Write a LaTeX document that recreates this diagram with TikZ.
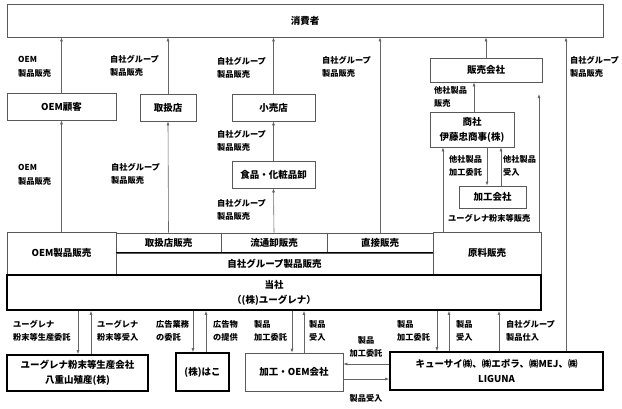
\documentclass[tikz,border=0pt]{standalone}
\usepackage{fontspec}
\setmainfont{Noto Sans CJK JP}
\usetikzlibrary{arrows.meta}

\tikzset{
  box/.style = {draw = black!65, line width = 0.6pt, rectangle, inner sep = 0pt, align = center, font = \fontsize{9.5}{15}\selectfont\bfseries},
  thickbox/.style = {box, draw = black, line width = 1.6pt},
  lbl/.style = {anchor = west, inner sep = 0pt, align = left, font = \fontsize{8.2}{13.5}\selectfont\bfseries},
  arr/.style = {draw = black!60, line width = 0.6pt, -{Latex[length = 4pt, width = 3pt]}}
}

\begin{document}
\begin{tikzpicture}[x = 1pt, y = -1pt]

\useasboundingbox ( 0, 0 ) rectangle ( 622, 408 );

% Consumer
\node[box, minimum width = 596pt, minimum height = 33pt] (consumer) at ( 305, 20.5 ) {消費者};

% Sales channels
\node[box, minimum width = 109pt, minimum height = 27pt] (oemcust) at ( 61.5, 106.5 ) {OEM顧客};
\node[box, minimum width = 56pt, minimum height = 27pt] (store) at ( 168, 107.5 ) {取扱店};
\node[box, minimum width = 83pt, minimum height = 27pt] (retail) at ( 273.5, 107.5 ) {小売店};
\node[box, minimum width = 83pt, minimum height = 27pt] (wholesale) at ( 273.5, 174.5 ) {食品・化粧品卸};
\node[box, minimum width = 112pt, minimum height = 24pt] (salesco) at ( 486, 70 ) {販売会社};
\node[box, minimum width = 84pt, minimum height = 35pt] (trading) at ( 472, 129.5 ) {商社\\伊藤忠商事(株)};
\node[box, minimum width = 67pt, minimum height = 22pt] (processor) at ( 492.5, 197 ) {加工会社};

% Business segments
\node[box, minimum width = 109pt, minimum height = 42pt] (oemsales) at ( 61.5, 253 ) {OEM製品販売};
\node[box, minimum width = 105pt, minimum height = 20pt] (storesales) at ( 168.5, 243 ) {取扱店販売};
\node[box, minimum width = 106pt, minimum height = 20pt] (distsales) at ( 274, 243 ) {流通卸販売};
\node[box, minimum width = 106pt, minimum height = 20pt] (directsales) at ( 380, 243 ) {直接販売};
\node[box, minimum width = 317pt, minimum height = 21pt] (groupsales) at ( 274.5, 263.5 ) {自社グループ製品販売};
\node[box, minimum width = 108pt, minimum height = 42pt] (materialsales) at ( 487, 253 ) {原料販売};
\draw[black, line width = 1pt] (groupsales.north west) -- (groupsales.north east);

% Company
\node[thickbox, minimum width = 534pt, minimum height = 35pt] (company) at ( 274, 292.5 ) {当社\\（(株)ユーグレナ）};

% Partners
\node[thickbox, minimum width = 141pt, minimum height = 36pt] (yaeyama) at ( 77.5, 373 ) {ユーグレナ粉末等生産会社\\八重山殖産(株)};
\node[thickbox, minimum width = 53pt, minimum height = 38pt] (hako) at ( 202.5, 372 ) {(株)はこ};
\node[box, minimum width = 98pt, minimum height = 38pt] (oemco) at ( 294, 372 ) {加工・OEM会社};
\node[thickbox, minimum width = 213pt, minimum height = 38pt] (liguna) at ( 496.5, 371 ) {キューサイ㈱、㈱エポラ、㈱MEJ、㈱\\LIGUNA};

\coordinate (rawend) at ( 539, 94 );

% Upper flows
\draw[arr] (oemcust.north) -- (oemcust.north |- consumer.south);
\draw[arr] (store.north) -- (store.north |- consumer.south);
\draw[arr] (retail.north) -- (retail.north |- consumer.south);
\draw[arr] (directsales.north) -- (directsales.north |- consumer.south);
\draw[arr] (salesco.north) -- (salesco.north |- consumer.south);
\draw[arr] (liguna.north -| 566,0) -- (566,0 |- consumer.south);
\draw[arr] (oemsales.north) -- (oemcust.south);
\draw[arr] (storesales.north) -- (store.south);
\draw[arr] (distsales.north) -- (wholesale.south);
\draw[arr] (wholesale.north) -- (retail.south);
\draw[arr] (materialsales.north -| 443,0) -- (443,0 |- trading.south);
\draw[arr] (materialsales.north -| rawend) -- (rawend);
\draw[arr] (trading.north -| 474,0) -- (474,0 |- salesco.south);
\draw[arr] (trading.south -| 487,0) -- (487,0 |- processor.north);
\draw[arr] (processor.north -| 501,0) -- (501,0 |- trading.south);

% Lower flows
\draw[arr] (company.south -| 78,0) -- (78,0 |- yaeyama.north);
\draw[arr] (yaeyama.north -| 91,0) -- (91,0 |- company.south);
\draw[arr] (company.south -| 193,0) -- (193,0 |- hako.north);
\draw[arr] (hako.north -| 206,0) -- (206,0 |- company.south);
\draw[arr] (company.south -| 292,0) -- (292,0 |- oemco.north);
\draw[arr] (oemco.north -| 304,0) -- (304,0 |- company.south);
\draw[arr] (company.south -| 437,0) -- (437,0 |- liguna.north);
\draw[arr] (liguna.north -| 449,0) -- (449,0 |- company.south);
\draw[arr] (liguna.north -| 499,0) -- (499,0 |- company.south);
\draw[arr] (liguna.west |- 0,364) -- (oemco.east |- 0,364);
\draw[arr] (oemco.east |- 0,379) -- (liguna.west |- 0,379);

% Labels
\node[lbl] (l1) at ( 18, 67 ) {OEM\\製品販売};
\node[lbl] (l2) at ( 110, 66 ) {自社グループ\\製品販売};
\node[lbl] (l3) at ( 217, 68 ) {自社グループ\\製品販売};
\node[lbl] (l4) at ( 322, 67 ) {自社グループ\\製品販売};
\node[lbl] (l5) at ( 434, 97 ) {他社製品\\販売};
\node[lbl] (l6) at ( 570, 67 ) {自社グループ\\製品販売};
\node[lbl] (l7) at ( 18, 175 ) {OEM\\製品販売};
\node[lbl] (l8) at ( 111, 174 ) {自社グループ\\製品販売};
\node[lbl] (l9) at ( 217, 141 ) {自社グループ\\製品販売};
\node[lbl] (l10) at ( 217, 210 ) {自社グループ\\製品販売};
\node[lbl] (l11) at ( 449, 166 ) {他社製品\\加工委託};
\node[lbl] (l12) at ( 503, 166 ) {他社製品\\受入};
\node[lbl] (l13) at ( 448, 218 ) {ユーグレナ粉末等販売};
\node[lbl] (l14) at ( 13, 331 ) {ユーグレナ\\粉末等生産委託};
\node[lbl] (l15) at ( 97, 331 ) {ユーグレナ\\粉末等受入};
\node[lbl] (l16) at ( 156, 331 ) {広告業務\\の委託};
\node[lbl] (l17) at ( 213, 331 ) {広告物\\の提供};
\node[lbl] (l18) at ( 254, 331 ) {製品\\加工委託};
\node[lbl] (l19) at ( 309, 331 ) {製品\\受入};
\node[lbl, anchor = center, align = center] (l20) at ( 366, 347 ) {製品\\加工委託};
\node[lbl, anchor = center] (l21) at ( 366, 398 ) {製品受入};
\node[lbl] (l22) at ( 397, 331 ) {製品\\加工委託};
\node[lbl] (l23) at ( 456, 331 ) {製品\\受入};
\node[lbl] (l24) at ( 506, 331 ) {自社グループ\\製品仕入};

\end{tikzpicture}
\end{document}
